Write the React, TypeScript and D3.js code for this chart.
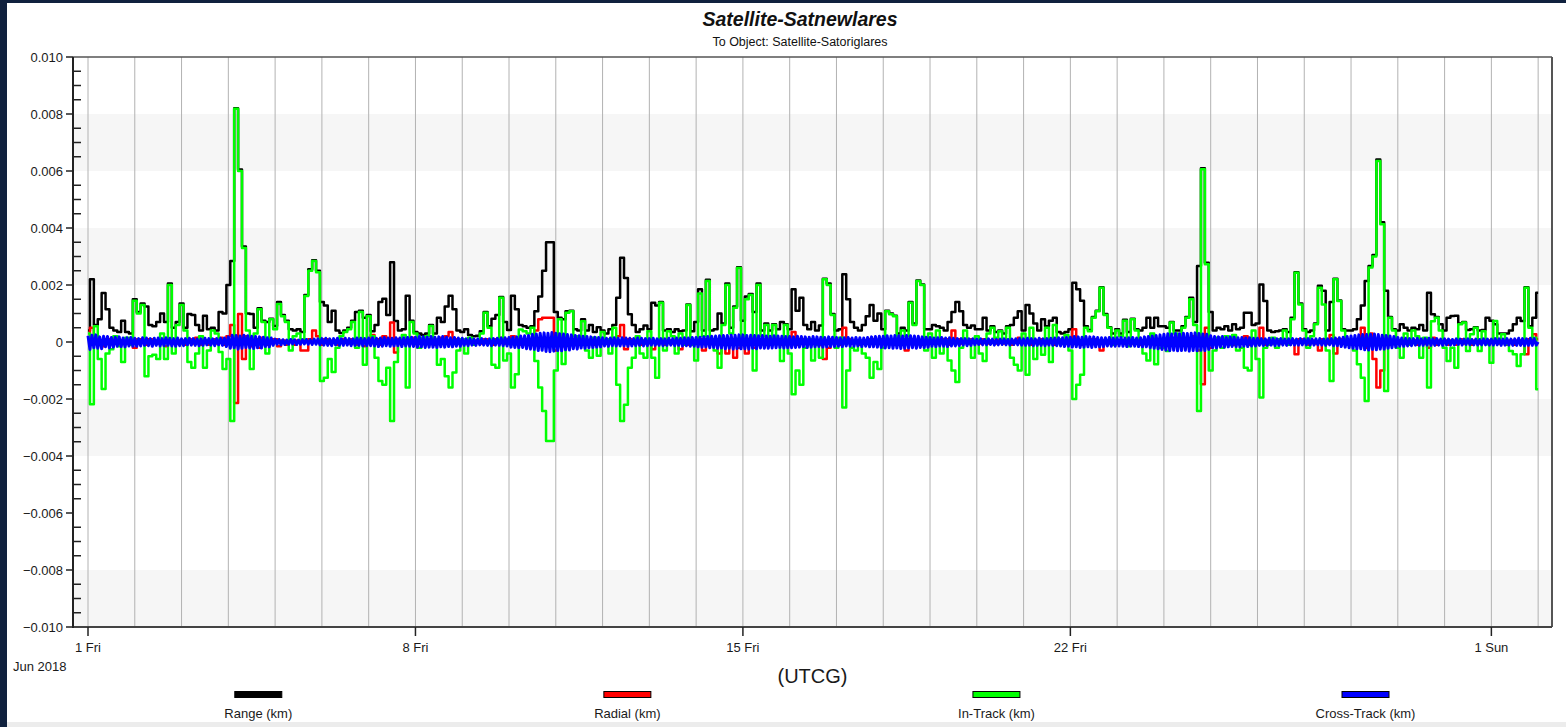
import React from "react";
import * as d3 from "d3";

// Relative position of Satellite-Satnewlares with respect to Satellite-Satoriglares,
// June 2018, stored in units of 1e-5 km.
const START = Date.UTC(2018, 5, 1); // 1 Jun 2018 00:00 UTCG
const DAY = 864e5;
const STEP_H = 2; // sampling of range / radial / in-track, hours
const CROSS_STEP_H = 1; // sampling of cross-track, hours
const UNIT = 1e-5; // km per stored unit

const rangeKm = [
  40, 220, 60, 80, 172, 115, 50, 40, 35, 75, 35, 30, // Jun 1
  150, 105, 135, 125, 60, 55, 70, 100, 70, 205, 50, 70,
  135, 50, 98, 95, 60, 40, 92, 45, 50, 40, 105, 100,
  200, 284, 820, 605, 335, 100, 98, 50, 118, 75, 70, 82,
  56, 140, 95, 75, 45, 40, 45, 35, 165, 255, 287, 250, // Jun 5
  140, 128, 70, 110, 40, 32, 40, 50, 75, 105, 110, 85,
  95, 38, 60, 140, 152, 95, 280, 74, 40, 45, 162, 75,
  35, 30, 25, 30, 60, 30, 85, 70, 125, 162, 115, 40,
  35, 45, 25, 20, 22, 38, 105, 55, 82, 95, 158, 70,
  42, 162, 115, 60, 55, 50, 55, 108, 160, 250, 350, 350, // Jun 10
  105, 85, 80, 108, 110, 45, 40, 80, 40, 60, 35, 52,
  40, 30, 45, 60, 155, 296, 225, 97, 60, 35, 45, 58,
  45, 138, 128, 140, 40, 45, 35, 45, 38, 40, 132, 38,
  70, 185, 40, 218, 40, 45, 100, 65, 205, 50, 125, 262,
  75, 160, 168, 105, 205, 40, 65, 40, 62, 45, 70, 62, // Jun 15
  45, 185, 110, 155, 60, 45, 70, 40, 58, 222, 205, 98,
  40, 45, 238, 150, 70, 50, 40, 60, 90, 130, 75, 100,
  45, 110, 100, 92, 30, 50, 40, 140, 65, 216, 202, 45,
  45, 60, 55, 50, 40, 70, 105, 140, 108, 60, 50, 58,
  45, 45, 85, 40, 55, 35, 40, 30, 55, 60, 85, 108, // Jun 20
  40, 130, 100, 65, 40, 80, 55, 75, 85, 35, 30, 35,
  45, 208, 185, 145, 55, 42, 88, 110, 192, 98, 52, 30,
  45, 30, 78, 35, 82, 45, 40, 50, 85, 50, 85, 55,
  55, 50, 70, 40, 40, 55, 88, 155, 70, 267, 610, 278,
  105, 40, 50, 45, 55, 40, 62, 45, 50, 103, 103, 60, // Jun 25
  65, 202, 144, 40, 35, 38, 40, 45, 35, 85, 245, 135,
  45, 35, 40, 65, 197, 180, 40, 140, 222, 146, 45, 40,
  40, 45, 80, 128, 214, 267, 305, 640, 420, 180, 88, 45,
  40, 62, 50, 40, 50, 45, 60, 40, 173, 97, 88, 62,
  40, 85, 91, 92, 65, 70, 42, 45, 52, 40, 42, 85, // Jun 30
  75, 62, 30, 30, 30, 40, 62, 85, 74, 192, 55, 85, // Jul 1
  173,
];

const radialKm = [
  10, 50, 20, -10, -15, 10, -5, 10, -10, 5, -5, 10,
  -20, 10, 5, -10, 10, 5, -5, 10, -15, 5, 10, -5,
  5, -10, 10, -5, 15, -10, 5, -10, 10, -5, 15, -10,
  20, 60, -214, 98, -60, 20, -15, 10, -20, 15, -10, 10,
  10, -15, 5, -10, 5, -10, 5, -30, -30, 10, 40, 20,
  -10, 10, -5, 5, -10, 10, 5, -5, 10, -10, 5, -15,
  5, 25, 10, -10, 20, 10, 68, -37, 10, -5, 10, 15,
  -5, 10, -5, 5, 10, -10, 5, 15, 20, 35, 10, -5,
  5, -5, 5, -5, 5, -5, 10, 5, -10, 10, 15, -5,
  10, 20, 15, -10, 10, 5, 10, 40, 80, 85, 85, 85,
  -30, 10, -15, 5, -10, 10, -5, 10, -5, 5, -10, 5,
  5, -5, 10, 5, 20, 60, -25, 10, -5, 5, -10, 5,
  5, -25, -5, 10, -10, 5, -5, 10, -25, 5, -10, 5,
  5, 10, -30, 10, -5, 10, -40, 5, -40, 10, -55, -20,
  5, -40, 10, -20, 10, -5, 5, -10, 5, 10, -10, 5,
  5, 35, -10, 10, -5, 10, -5, 5, -10, -60, -20, 10,
  5, -10, 50, 10, -5, 5, -10, 5, -5, 10, -5, 5,
  10, -5, 5, -10, 5, -5, -30, 10, -5, 5, -10, 5,
  -5, 10, -5, 5, 10, -10, 40, 10, -5, 5, -5, 10,
  5, -5, 10, -5, 5, -5, 10, -5, 5, -10, 5, 15,
  5, 5, -10, 5, -5, 10, -5, 5, -10, 5, 5, -5,
  10, 45, 5, -10, 5, -5, 10, -5, -30, 5, -5, 10,
  -5, 5, -5, 10, -5, 5, -10, 5, -5, 10, -5, 5,
  5, -10, 10, -5, 10, -5, 10, -10, 20, -30, -148, 50,
  -20, 5, -5, 10, -5, 5, -10, 5, -5, 20, -10, 5,
  10, 50, -10, 5, -5, 10, -5, 5, -10, 5, -43, 10,
  5, -10, 5, -5, -30, 10, -5, 25, -40, 10, -5, 5,
  5, -10, 10, 50, -20, 30, -60, -160, -100, 20, -10, 5,
  5, -5, 10, -5, 5, -10, 5, -5, -20, 15, -10, 5,
  5, -10, 5, -10, 10, -5, 5, -10, 5, -5, 10, -5,
  5, 10, -5, 5, -10, 5, -10, 5, -5, -43, 10, 27,
  10,
];

const inTrackKm = [
  30, -218, 55, -60, -165, -40, -25, 20, -15, -70, 15, -10,
  145, 100, 130, -120, -50, -45, -60, 30, -60, 200, -40, 60,
  130, 40, -70, -90, -40, 20, -90, -30, 40, 30, -35, -95,
  -60, -277, 818, 600, 330, 40, -95, 30, 115, 70, -40, 80,
  45, 133, 90, 70, -30, 20, 30, 10, 161, 250, 284, 245,
  -137, -125, -60, -105, -20, 20, 35, 45, 70, -20, 105, -80,
  90, 20, -55, -137, -150, -90, -277, -70, 0, 25, -160, 70,
  30, -20, 15, 20, 56, 10, -80, -60, -120, -160, -107, -30,
  10, -40, 15, -10, 5, 30, 103, 50, -80, -90, 155, -65,
  -40, -160, -113, 44, 38, 30, 50, -67, -160, -242, -347, -347,
  -100, 80, -77, 103, 108, 20, 10, 73, -30, -55, 15, -48,
  35, 10, -40, 50, -150, -277, -220, -90, -55, 20, -40, -55,
  38, -55, -125, 138, -30, 38, 20, -40, 30, -10, 130, -10,
  -65, 170, 20, 214, 10, -30, -90, 60, 200, 30, 120, 260,
  -10, 150, 165, -100, 200, 20, 60, -10, 60, 0, -67, 60,
  -40, -183, -100, -150, -20, 10, -65, -10, -55, 220, 200, 95,
  -20, 15, -230, -100, -20, -30, 5, -40, -55, -125, -70, -95,
  -20, 108, 97, 90, -10, 40, 20, 138, 60, 214, 200, -30,
  30, -55, 40, -40, 5, -65, -100, -140, -20, 40, 5, -55,
  20, -40, -67, 30, 50, 15, 38, 10, 50, -55, -80, -100,
  30, -115, 50, -60, 0, -45, 50, -70, 60, 10, -5, 25,
  -30, -200, -150, -115, 50, 38, 85, 108, 190, 95, 50, -10,
  40, 20, 75, -15, 80, 40, 5, -40, -65, 30, -78, -20,
  -20, -32, 68, 30, 10, 50, 85, 150, 60, -242, 606, 273,
  -100, -30, 15, -20, 20, -10, 25, -30, -20, -90, -100, 40,
  -60, -195, -20, -10, 15, -20, 10, 40, -10, 80, 243, 132,
  40, -20, 20, 62, 190, 132, -30, -137, 220, 144, 40, -10,
  5, -30, -78, -125, -207, 261, 300, 635, 413, -172, 85, 40,
  -20, -55, 30, -10, 40, 20, -55, 15, -160, 73, 85, 40,
  -20, -67, -20, -90, 62, 68, -32, 27, 50, -32, 38, -8,
  -73, 74, 0, 27, -8, -32, -43, -84, -43, 190, 50, 15,
  -166,
];

const crossTrackKm = [
  22, -26, 24, -20, 25, -22, 18, -24, 20, -17, 19, -21, 16, -18, 17, -15, 18, -16, 14, -17, 15, -14, 16, -15,
  13, -15, 12, -14, 15, -12, 14, -13, 12, -15, 13, -12, 14, -14, 12, -13, 15, -12, 13, -14, 12, -15, 14, -13,
  11, -13, 12, -10, 13, -11, 12, -12, 10, -13, 11, -12, 13, -10, 12, -11, 11, -13, 12, -10, 13, -12, 14, -16,
  18, -22, 24, -20, 23, -25, 21, -22, 24, -19, 22, -21, 20, -23, 19, -20, 18, -21, 17, -16, 15, -17, 14, -12,
  10, -8, 9, -10, 8, -9, 7, -8, 9, -7, 8, -9, 7, -8, 8, -7, 9, -8, 8, -9, 10, -8, 11, -10,
  12, -11, 13, -12, 11, -13, 12, -10, 13, -12, 11, -12, 13, -11, 12, -13, 11, -12, 14, -12, 13, -14, 12, -13,
  14, -13, 15, -14, 13, -16, 14, -15, 16, -13, 14, -15, 13, -14, 15, -13, 14, -16, 15, -14, 16, -15, 17, -16,
  17, -18, 19, -17, 18, -19, 17, -18, 19, -18, 17, -19, 18, -17, 19, -18, 17, -16, 15, -17, 16, -15, 14, -15,
  13, -12, 11, -13, 12, -11, 10, -12, 11, -10, 12, -11, 10, -12, 11, -13, 12, -11, 13, -12, 14, -13, 15, -14,
  16, -18, 17, -19, 18, -20, 21, -19, 22, -24, 23, -25, 27, -26, 28, -30, 31, -29, 32, -33, 31, -34, 33, -32,
  31, -30, 29, -31, 28, -27, 26, -28, 25, -24, 23, -25, 22, -21, 20, -22, 19, -20, 18, -19, 17, -18, 16, -17,
  15, -14, 13, -15, 14, -13, 15, -14, 13, -14, 15, -13, 14, -15, 13, -14, 12, -13, 14, -12, 13, -14, 12, -13,
  12, -11, 13, -12, 11, -12, 12, -13, 11, -12, 13, -11, 12, -13, 14, -12, 13, -14, 15, -13, 14, -15, 16, -15,
  16, -17, 17, -18, 18, -17, 19, -20, 20, -19, 21, -22, 22, -21, 23, -24, 23, -22, 24, -25, 24, -23, 25, -24,
  25, -24, 23, -25, 24, -22, 23, -24, 22, -21, 23, -22, 21, -22, 20, -21, 22, -20, 21, -19, 20, -21, 19, -20,
  19, -20, 18, -19, 20, -18, 19, -17, 18, -19, 17, -18, 19, -17, 18, -16, 17, -18, 16, -17, 18, -16, 17, -16,
  16, -15, 14, -16, 15, -14, 16, -15, 14, -15, 16, -14, 15, -16, 14, -15, 16, -17, 18, -17, 19, -18, 20, -19,
  20, -21, 22, -20, 21, -22, 23, -21, 22, -23, 21, -22, 23, -21, 22, -20, 21, -22, 20, -19, 18, -19, 17, -18,
  16, -15, 14, -16, 15, -14, 16, -15, 14, -16, 15, -14, 13, -14, 12, -13, 12, -11, 12, -13, 11, -12, 11, -10,
  10, -9, 11, -10, 9, -10, 11, -9, 10, -11, 9, -10, 10, -9, 11, -10, 9, -11, 10, -9, 11, -10, 12, -11,
  11, -12, 13, -11, 12, -13, 11, -12, 13, -12, 11, -13, 12, -11, 13, -12, 14, -13, 15, -14, 15, -16, 16, -15,
  17, -18, 19, -17, 18, -19, 17, -18, 19, -17, 18, -19, 18, -17, 16, -17, 15, -16, 15, -14, 16, -15, 14, -15,
  15, -14, 16, -15, 14, -16, 15, -14, 16, -15, 14, -16, 15, -17, 18, -17, 19, -20, 21, -22, 23, -24, 25, -26,
  27, -28, 29, -30, 28, -29, 30, -31, 29, -30, 31, -29, 30, -32, 31, -30, 32, -31, 30, -29, 28, -30, 27, -26,
  22, -20, 19, -21, 18, -17, 19, -18, 16, -17, 18, -16, 17, -16, 15, -17, 16, -15, 14, -16, 15, -14, 13, -14,
  13, -12, 12, -13, 11, -12, 13, -11, 12, -13, 11, -12, 12, -11, 10, -12, 11, -10, 12, -11, 10, -11, 12, -10,
  11, -10, 12, -11, 10, -11, 11, -10, 12, -11, 10, -12, 11, -10, 12, -13, 14, -13, 15, -16, 17, -18, 19, -20,
  21, -22, 23, -24, 25, -24, 26, -27, 26, -28, 27, -26, 28, -27, 26, -25, 24, -25, 23, -22, 21, -20, 19, -18,
  16, -15, 14, -15, 13, -14, 12, -13, 12, -11, 13, -12, 11, -12, 12, -11, 13, -12, 11, -12, 12, -11, 10, -12,
  11, -10, 10, -11, 9, -10, 11, -9, 10, -11, 10, -9, 11, -10, 9, -10, 10, -11, 9, -10, 11, -10, 10, -11,
  10, -11, 12, -10, 11, -12, 10, -11, 12, -11, 10, -12, 11, -12, 13, -12, 12, -13, 11, -12, 13, -12, 12, -11,
  0,
];

const seriesNames = ["Range (km)", "Radial (km)", "In-Track (km)", "Cross-Track (km)"];
const seriesColors = ["#000000", "#ff0000", "#00ff00", "#0000ff"];
const seriesWidths = [2.5, 2.5, 2.5, 3];

const yTickValues = [0.01, 0.008, 0.006, 0.004, 0.002, 0, -0.002, -0.004, -0.006, -0.008, -0.01];
const shadedBands = [
  [0.006, 0.008],
  [0.002, 0.004],
  [-0.004, -0.002],
  [-0.01, -0.008],
];
const xTickDates = ["2018-06-01", "2018-06-08", "2018-06-15", "2018-06-22", "2018-07-01"];
const xTickLabels = ["1 Fri", "8 Fri", "15 Fri", "22 Fri", "1 Sun"];

const FONT = "'Liberation Sans', Arial, Helvetica, sans-serif";

export default function App() {
  const W = 1566;
  const H = 727;
  const left = 73;
  const right = 1552;
  const top = 57;
  const bottom = 627;

  const x = d3
    .scaleUtc()
    .domain([new Date(START - 0.3207 * DAY), new Date(START + 31.296 * DAY)])
    .range([left, right]);
  const y = d3.scaleLinear().domain([-0.01, 0.01]).range([bottom, top]);

  const toPoints = (vals: number[], stepH: number) =>
    vals.map((v, i) => [x(new Date(START + i * stepH * 3600e3)), y(v * UNIT)] as [number, number]);

  const stepLine = d3.line<[number, number]>().curve(d3.curveStep);
  const plainLine = d3.line<[number, number]>();

  const paths = [
    stepLine(toPoints(rangeKm, STEP_H)),
    stepLine(toPoints(radialKm, STEP_H)),
    stepLine(toPoints(inTrackKm, STEP_H)),
    plainLine(toPoints(crossTrackKm, CROSS_STEP_H)),
  ];

  const dayLines = d3.utcDay.range(new Date(START), new Date(START + 31.5 * DAY));
  const minorTicks = d3.range(-0.01, 0.01001, 0.0005).filter((v) => Math.abs(Math.round(v / 0.002) * 0.002 - v) > 1e-6);
  const fmt = (v: number) => (Math.abs(v) < 1e-9 ? "0" : d3.format(".3f")(v));

  const legendCenter = d3.scaleLinear().domain([0, 3]).range([258.3, 1365.5]);

  return (
    <svg
      width={W}
      height={H}
      style={{ position: "fixed", left: 0, top: 0, display: "block" }}
      fontFamily={FONT}
    >
      <rect x={0} y={0} width={W} height={H} fill="#10213e" />
      <rect x={7} y={3} width={W - 7} height={720} fill="#ffffff" />
      <rect x={7} y={722} width={W - 7} height={5} fill="#ececec" />

      <text x={800} y={26} textAnchor="middle" fontSize={19.5} fontWeight="bold" fontStyle="italic" fill="#111">
        Satellite-Satnewlares
      </text>
      <text x={800} y={46} textAnchor="middle" fontSize={12.5} fill="#111">
        To Object: Satellite-Satoriglares
      </text>

      {shadedBands.map(([a, b], i) => (
        <rect key={i} x={left} width={right - left} y={y(Math.max(a, b))} height={y(Math.min(a, b)) - y(Math.max(a, b))} fill="#f6f6f6" />
      ))}

      {dayLines.map((d, i) => (
        <line key={i} x1={x(d)} x2={x(d)} y1={top} y2={bottom} stroke="#b2b2b2" strokeWidth={1} />
      ))}

      <g fill="none" strokeLinejoin="round">
        {paths.map((p, i) => (
          <path key={i} d={p ?? ""} stroke={seriesColors[i]} strokeWidth={seriesWidths[i]} />
        ))}
      </g>

      {/* frame */}
      <line x1={left} x2={right} y1={top} y2={top} stroke="#555" strokeWidth={1.5} />
      <line x1={right} x2={right} y1={top} y2={bottom} stroke="#555" strokeWidth={2} />
      <line x1={left} x2={right} y1={bottom} y2={bottom} stroke="#444" strokeWidth={2} />
      <line x1={left} x2={left} y1={top} y2={bottom + 1} stroke="#222" strokeWidth={2} />

      {/* y axis */}
      {yTickValues.map((v) => (
        <g key={v}>
          <line x1={left - 7} x2={left} y1={y(v)} y2={y(v)} stroke="#222" strokeWidth={1.5} />
          <text x={63} y={y(v) + 4.5} textAnchor="end" fontSize={13} fill="#1a1a1a">
            {fmt(v)}
          </text>
        </g>
      ))}
      {minorTicks.map((v, i) => (
        <line key={i} x1={left} x2={left + 8} y1={y(v)} y2={y(v)} stroke="#222" strokeWidth={1.5} />
      ))}

      {/* x axis */}
      {xTickDates.map((s, i) => {
        const px = x(new Date(s + "T00:00:00Z"));
        return (
          <g key={s}>
            <line x1={px} x2={px} y1={bottom} y2={bottom + 9} stroke="#222" strokeWidth={1.5} />
            <text x={px} y={652} textAnchor="middle" fontSize={13} fill="#1a1a1a">
              {xTickLabels[i]}
            </text>
          </g>
        );
      })}
      <text x={13} y={671} fontSize={13} fill="#1a1a1a">
        Jun 2018
      </text>
      <text x={(left + right) / 2} y={683} textAnchor="middle" fontSize={20} fill="#1a1a1a">
        (UTCG)
      </text>

      {/* legend */}
      {seriesNames.map((name, i) => {
        const cx = legendCenter(i);
        return (
          <g key={name}>
            <rect x={cx - 23.5} y={691.5} width={47} height={6} fill={seriesColors[i]} stroke="#000" strokeWidth={1} />
            <text x={cx} y={718} textAnchor="middle" fontSize={13} fill="#1a1a1a">
              {name}
            </text>
          </g>
        );
      })}
    </svg>
  );
}
